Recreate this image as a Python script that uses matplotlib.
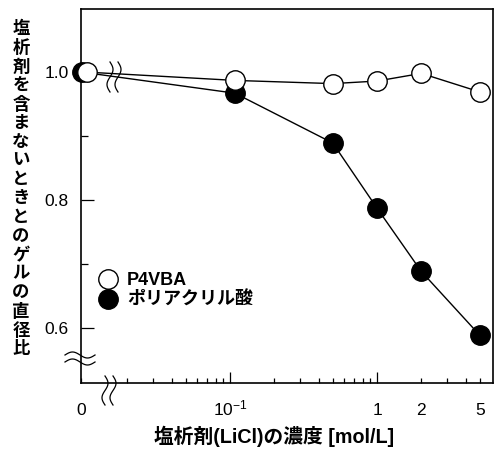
import matplotlib
matplotlib.use("Agg")
import matplotlib.pyplot as plt
from matplotlib.lines import Line2D
from matplotlib.ticker import FixedLocator, FixedFormatter
import numpy as np

plt.rcParams['font.family'] = ['Liberation Sans', 'Noto Sans CJK JP']
plt.rcParams['mathtext.fontset'] = 'custom'
plt.rcParams['mathtext.rm'] = 'Liberation Sans'

# データ（濃度 0 は軸の左端に置く）
conc = [0, 0.108, 0.5, 1, 2, 5]
p4vba = [1.0, 0.987, 0.982, 0.986, 0.998, 0.969]
paa = [1.0, 0.967, 0.889, 0.787, 0.688, 0.588]
labels = ['P4VBA', 'ポリアクリル酸']
xlabel = '塩析剤(LiCl)の濃度 [mol/L]'
ylabel = '塩析剤を含まないときとのゲルの直径比'

W, H = 495, 449
x_left = 0.00969
zero_open, zero_filled = 0.0106, 0.0098

fig = plt.figure(figsize=(W / 100, H / 100), dpi=100)
ax = fig.add_axes([81 / W, 1 - 383 / H, (493 - 81) / W, (383 - 9) / H])
ax.set_xscale('log')
ax.set_xlim(x_left, 6.15)
ax.set_ylim(0.5133, 1.0988)

x_open = [zero_open if c == 0 else c for c in conc]
x_filled = [zero_filled if c == 0 else c for c in conc]

ax.plot(x_filled, paa, '-', color='k', lw=1.0, zorder=2)
ax.plot(x_open, p4vba, '-', color='k', lw=1.0, zorder=2)
ax.plot(x_filled, paa, 'o', ms=14, mfc='k', mec='k', mew=1.0, zorder=3, clip_on=False)
ax.plot(x_open, p4vba, 'o', ms=14, mfc='white', mec='k', mew=1.0, zorder=4, clip_on=False)

# 目盛り
ax.xaxis.set_major_locator(FixedLocator([0.1, 1]))
ax.xaxis.set_major_formatter(FixedFormatter([r'$\mathregular{10^{-1}}$', '1']))
minor = [x_left] + [i * 0.01 for i in range(2, 10)] + [i * 0.1 for i in range(2, 10)] + [2, 3, 4, 5]
minor_lbl = ['0'] + [''] * 8 + [''] * 8 + ['2', '', '', '5']
ax.xaxis.set_minor_locator(FixedLocator(minor))
ax.xaxis.set_minor_formatter(FixedFormatter(minor_lbl))
ax.set_yticks([0.6, 0.8, 1.0])
ax.set_yticklabels(['0.6', '0.8', '1.0'])
ax.set_yticks([0.7, 0.9], minor=True)

ax.tick_params(axis='both', which='both', direction='in', width=0.9, labelsize=12.5)
ax.tick_params(axis='x', which='major', length=8, pad=23)
ax.tick_params(axis='x', which='minor', length=3.6, pad=23)
ax.tick_params(axis='y', which='major', length=9.4, pad=9)
ax.tick_params(axis='y', which='minor', length=5)
ax.tick_params(top=False, right=False, which='both')
for lbl in ax.get_xticklabels(which='both'):
    lbl.set_va('baseline')
for s in ax.spines.values():
    s.set_linewidth(1.2)

ax.set_xlabel(xlabel, fontsize=14.2, fontweight='bold')
ax.xaxis.set_label_coords((274 - 81) / 412, (383 - 436) / 374)
ax.xaxis.label.set_va('center')

# 縦書きのラベル
step = 18.85
for i, ch in enumerate(ylabel):
    fig.text(21 / W, 1 - (29 + i * step) / H, ch, fontsize=12.5,
             fontweight='bold', ha='center', va='center')

# 凡例
handles = [Line2D([], [], ls='none', marker='o', ms=14, mfc='white', mec='k'),
           Line2D([], [], ls='none', marker='o', ms=14, mfc='k', mec='k')]
ax.legend(handles, labels, loc='upper left', bbox_to_anchor=((99 - 81) / 412, (383 - 272) / 374),
          frameon=False, prop={'size': 13, 'weight': 'bold'}, handlelength=1.0,
          handletextpad=0.55, labelspacing=0.15, borderpad=0, borderaxespad=0)

# 軸の省略記号
def wavy(x0, y0, horizontal, length, amp=3):
    t = np.linspace(0, 1, 60)
    if horizontal:
        xs = x0 + t * length
        ys = y0 - amp * np.sin(2 * np.pi * t)
    else:
        ys = y0 + t * length
        xs = x0 + amp * np.sin(2 * np.pi * t)
    fig.add_artist(Line2D(xs / W, 1 - ys / H, transform=fig.transFigure,
                          color='k', lw=0.9))

wavy(65, 355, True, 30)
wavy(65, 362, True, 30)
wavy(105, 376, False, 29)
wavy(113, 376, False, 29)
wavy(110, 62, False, 30)
wavy(118, 62, False, 30)

fig.savefig('out.png', dpi=100)
